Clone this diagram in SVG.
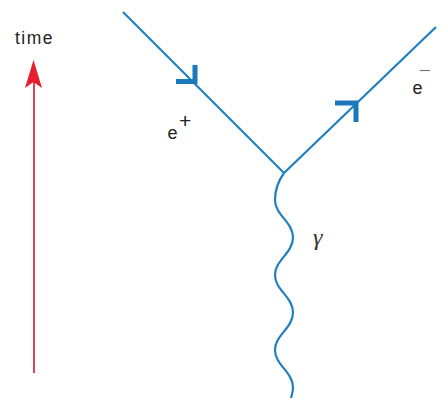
<svg xmlns="http://www.w3.org/2000/svg" width="448" height="398" viewBox="0 0 448 398">
<style>
.lbl{font-family:"Liberation Sans",Arial,sans-serif;fill:#222;}
.fer{stroke:#1f7fc0;stroke-width:2.2;fill:none;}
.arr{stroke:#1a78bf;stroke-width:5;fill:none;stroke-linecap:butt;stroke-linejoin:miter;}
</style>
<rect width="448" height="398" fill="#fff"/>
<g id="time-axis">
<line x1="34" y1="373" x2="34" y2="80" stroke="#d8455a" stroke-width="2"/>
<path d="M33.5,60 L42,88 L33.5,82 L25,88 Z" fill="#e61e2f"/>
<text class="lbl" x="15" y="43.5" font-size="17.5" textLength="37.5">time</text>
</g>
<g id="connectors">
<g id="positron">
<line class="fer" x1="123" y1="12" x2="284" y2="173"/>
<path class="arr" d="M176,81.5 L195,81.5 L195,65"/>
<text class="lbl" x="167.5" y="138.5" font-size="18">e</text>
<text class="lbl" x="179" y="127.5" font-size="21" style="font-weight:300" fill="#555">+</text>
</g>
<g id="electron">
<line class="fer" x1="284" y1="173" x2="436" y2="27"/>
<path class="arr" d="M335,103 L356,103 L356,122"/>
<text class="lbl" x="412.5" y="93.5" font-size="18">e</text>
<line x1="420" y1="70.5" x2="430" y2="70.5" stroke="#777" stroke-width="1.2"/>
</g>
<g id="photon">
<path class="fer" d="M284,173 C279,180 275,188 275,200 C275,215 293,222 293,237.5 C293,253 275,260 275,275 C275,290 293,297 293,312.5 C293,328 275,335 275,350 C275,365 293,372 293,387.5 C293,392 292,395 291,398"/>
<text x="313" y="245" font-family="Liberation Serif,serif" font-style="italic" font-size="24" fill="#333">γ</text>
</g>
</g>
</svg>
